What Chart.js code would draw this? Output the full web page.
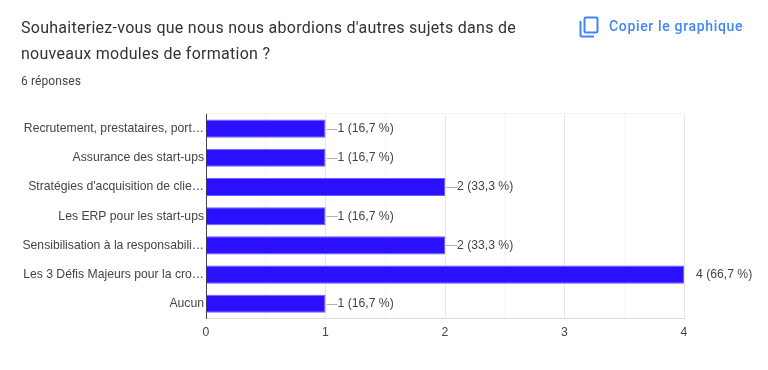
<!DOCTYPE html>
<html lang="fr">
<head>
<meta charset="utf-8">
<title>Modules de formation</title>
<script src="https://cdn.jsdelivr.net/npm/chart.js@4"></script>
<style>
    html, body { margin: 0; padding: 0; background: #fff; }
    #wrap { position: relative; width: 768px; height: 370px; overflow: hidden; font-family: Roboto, sans-serif; }
    #chart { position: absolute; left: 0; top: 0; }
    .title { position: absolute; left: 21px; top: 15px; width: 530px; font-size: 16px; line-height: 26px; color: #333; letter-spacing: 0.27px; }
    .count { position: absolute; left: 21px; top: 73px; font-size: 12px; line-height: 16px; color: #444; letter-spacing: 0.1px; }
    .copy { position: absolute; left: 609px; top: 17px; font-size: 14px; line-height: 18px; font-weight: 500; color: #4285f4; letter-spacing: 0.66px; }
    .copy-icon { position: absolute; left: 578px; top: 16px; }
</style>
</head>
<body>
<div id="wrap">
    <canvas id="chart" width="768" height="370"></canvas>
    <div class="title">Souhaiteriez-vous que nous nous abordions d'autres sujets dans de nouveaux modules de formation ?</div>
    <div class="count">6 réponses</div>
    <svg class="copy-icon" width="22" height="22" viewBox="0 0 22 22" fill="none" stroke="#4285f4" stroke-width="2">
        <rect x="6.5" y="1.5" width="13" height="15" rx="1.5"></rect>
        <path d="M2.5 5v14.5a1 1 0 0 0 1 1H16"></path>
    </svg>
    <div class="copy">Copier le graphique</div>
</div>
<script>
const categories = [
    'Recrutement, prestataires, port…',
    'Assurance des start-ups',
    "Stratégies d'acquisition de clie…",
    'Les ERP pour les start-ups',
    'Sensibilisation à la responsabili…',
    'Les 3 Défis Majeurs pour la cro…',
    'Aucun',
];
const counts = [1, 1, 2, 1, 2, 4, 1];
const percents = ['16,7', '16,7', '33,3', '16,7', '33,3', '66,7', '16,7'];
const xMax = 4;

const LABEL_FAMILY = '"Liberation Sans", Arial, sans-serif';
const LABEL_SIZE = 12.2;

// labels at the end of the bars, with the small grey leader line
const barLabels = {
    id: 'barLabels',
    afterDatasetsDraw(chart) {
        const { ctx } = chart;
        const bars = chart.getDatasetMeta(0).data;
        ctx.save();
        ctx.font = `${LABEL_SIZE}px ${LABEL_FAMILY}`;
        ctx.textBaseline = 'middle';
        bars.forEach((bar, i) => {
            const text = `${counts[i]} (${percents[i]} %)`;
            if (counts[i] !== xMax) {
                ctx.strokeStyle = '#b0b0b0';
                ctx.lineWidth = 1;
                ctx.beginPath();
                ctx.moveTo(bar.x + 1, Math.round(bar.y) + 0.5);
                ctx.lineTo(bar.x + 12, Math.round(bar.y) + 0.5);
                ctx.stroke();
            }
            ctx.fillStyle = '#444';
            ctx.fillText(text, bar.x + 12, bar.y);
        });
        ctx.restore();
    },
};

const topEdge = {
    id: 'topEdge',
    beforeDatasetsDraw(chart) {
        const { ctx, chartArea } = chart;
        ctx.save();
        ctx.strokeStyle = '#f2f2f2';
        ctx.beginPath();
        ctx.moveTo(chartArea.left, chartArea.top - 0.5);
        ctx.lineTo(chartArea.right, chartArea.top - 0.5);
        ctx.stroke();
        ctx.restore();
    },
};

new Chart(document.getElementById('chart'), {
    type: 'bar',
    data: {
        labels: categories,
        datasets: [{
            data: counts,
            backgroundColor: '#2a10ff',
            borderColor: '#6a5cff',
            borderWidth: 1,
            barPercentage: 0.62,
            categoryPercentage: 1,
        }],
    },
    options: {
        indexAxis: 'y',
        responsive: false,
        animation: false,
        layout: { padding: { top: 114, right: 84, left: 0, bottom: 0 } },
        plugins: { legend: { display: false }, tooltip: { enabled: false } },
        scales: {
            x: {
                min: 0,
                max: xMax,
                afterFit: (s) => { s.height = 370 - 318.4; },
                border: { color: '#dcdcdc' },
                grid: {
                    color: (c) => (c.tick.value % 1 ? '#f7f7f7' : '#e6e6e6'),
                    drawTicks: false,
                },
                ticks: {
                    stepSize: 0.5,
                    padding: 7,
                    maxRotation: 0,
                    autoSkip: false,
                    color: '#444',
                    font: { family: LABEL_FAMILY, size: LABEL_SIZE },
                    callback: (v) => (v % 1 ? '' : v),
                },
            },
            y: {
                afterFit: (s) => { s.width = 206; },
                border: { color: '#444' },
                grid: { display: false, drawTicks: false },
                ticks: {
                    padding: 2,
                    autoSkip: false,
                    color: '#444',
                    font: { family: LABEL_FAMILY, size: LABEL_SIZE },
                },
            },
        },
    },
    plugins: [topEdge, barLabels],
});
</script>
</body>
</html>
